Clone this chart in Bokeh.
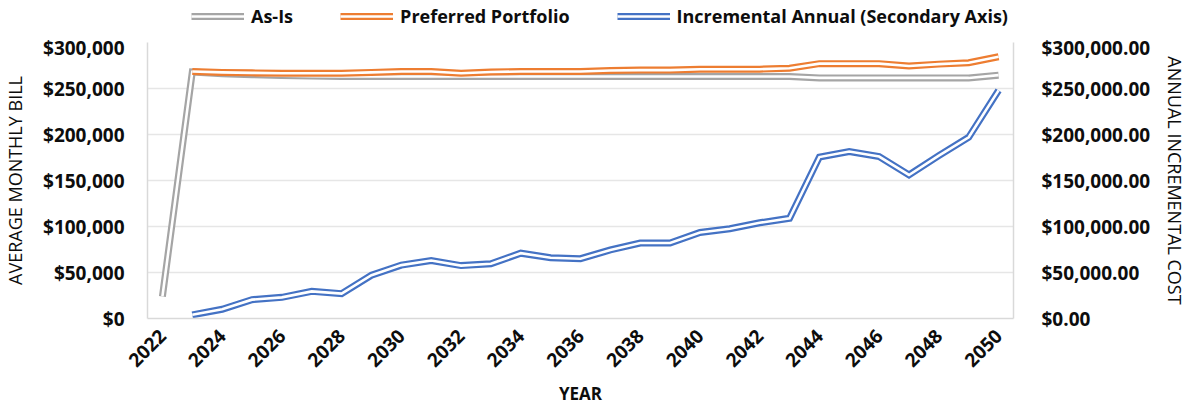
import math
from bokeh.plotting import figure
from bokeh.layouts import column
from bokeh.models import (ColumnDataSource, Range1d, LinearAxis, FixedTicker,
                          NumeralTickFormatter, Legend, LegendItem)
from bokeh.embed import file_html
from bokeh.resources import INLINE

nan = float("nan")

years = list(range(2022, 2051))
as_is = [24000, 268000, 266000, 265000, 264000, 263500, 263000,
         263000, 263000, 263000, 263000, 263000, 263000, 263000, 263000,
         263000, 263000, 263000, 263000, 263000, 263000, 263000,
         261500, 261500, 261500, 261500, 261500, 261500, 264500]
preferred = [nan, 268500, 267500, 267000, 266500, 266500, 266500, 267500,
             268500, 268500, 266500, 268000, 268500, 268500, 268500, 269500,
             270000, 270000, 271000, 271000, 271000, 272000, 277000, 277000,
             277000, 274500, 276500, 278000, 284500]
incremental = [nan, 4000, 10000, 20500, 23000, 29500, 27000, 47000, 58000,
               63000, 57500, 59500, 71000, 66000, 65000, 74500, 82000, 82000,
               93500, 97500, 104000, 109000, 175500, 181500, 176000, 156000,
               177000, 197000, 248000]
x_ticks = list(range(2022, 2051, 2))
y_ticks = list(range(0, 300001, 50000))
series_names = ["As-Is", "Preferred Portfolio", "Incremental Annual (Secondary Axis)"]

FONT = "Open Sans"
TXT = "#0d0d0d"
COLORS = ["#a5a5a5", "#ed7d31", "#4472c4"]

src = ColumnDataSource(dict(year=years, as_is=as_is, preferred=preferred,
                            incremental=incremental))

# ---------------- main chart ----------------
p = figure(width=1190, height=374, output_backend="svg", toolbar_location=None,
           x_range=Range1d(2021.5, 2050.5), y_range=Range1d(0, 300000),
           min_border_left=146, min_border_right=172, min_border_top=8,
           min_border_bottom=85)
p.outline_line_color = None
p.extra_y_ranges = {"sec": Range1d(0, 300000)}
right_axis = LinearAxis(y_range_name="sec")
p.add_layout(right_axis, "right")

p.xgrid.visible = False
p.ygrid.ticker = FixedTicker(ticks=y_ticks)
p.ygrid.grid_line_color = "#e6e6e6"
p.ygrid.grid_line_width = 1.5

def style_axis(ax, standoff):
    ax.major_tick_line_color = None
    ax.minor_tick_line_color = None
    ax.axis_line_color = "#d9d9d9"
    ax.axis_line_width = 1.5
    ax.major_label_text_font = FONT
    ax.major_label_text_font_style = "bold"
    ax.major_label_text_font_size = "19px"
    ax.major_label_text_color = TXT
    ax.major_label_standoff = standoff
    ax.axis_label_text_font = FONT
    ax.axis_label_text_font_style = "normal"
    ax.axis_label_text_font_size = "18px"
    ax.axis_label_text_color = TXT

left_axis = p.left[0]
style_axis(left_axis, 17)
left_axis.ticker = FixedTicker(ticks=y_ticks)
left_axis.formatter = NumeralTickFormatter(format="$0,0")
left_axis.axis_label = "AVERAGE MONTHLY BILL"
left_axis.axis_label_standoff = 13

style_axis(right_axis, 22)
right_axis.ticker = FixedTicker(ticks=y_ticks)
right_axis.formatter = NumeralTickFormatter(format="$0,0.00")
right_axis.axis_label = "ANNUAL INCREMENTAL COST"
right_axis.axis_label_standoff = 10

xax = p.below[0]
style_axis(xax, 8)
xax.ticker = FixedTicker(ticks=x_ticks)
xax.major_label_overrides = {y: str(y) for y in x_ticks}
xax.major_label_orientation = math.pi / 4
xax.axis_label = "YEAR"
xax.axis_label_standoff = 6
xax.axis_label_text_font_style = "bold"
xax.axis_label_text_font_size = "17px"

def double_line(fig, col, color, y_range_name="default"):
    r1 = fig.line("year", col, source=src, line_color=color, line_width=7,
                  y_range_name=y_range_name, line_join="miter")
    r2 = fig.line("year", col, source=src, line_color="white", line_width=2.6,
                  y_range_name=y_range_name, line_join="miter")
    return [r1, r2]

double_line(p, "as_is", COLORS[0])
double_line(p, "preferred", COLORS[1])
double_line(p, "incremental", COLORS[2], "sec")

# ---------------- legend strip above the chart ----------------
lg = figure(width=1190, height=34, output_backend="svg", toolbar_location=None,
            x_range=Range1d(2021.5, 2050.5), y_range=Range1d(-2, -1),
            x_axis_location=None, y_axis_location=None,
            min_border_left=0, min_border_right=0, min_border_top=0,
            min_border_bottom=0)
lg.outline_line_color = None
lg.grid.visible = False
l_as = double_line(lg, "as_is", COLORS[0])
l_pp = double_line(lg, "preferred", COLORS[1])
l_in = double_line(lg, "incremental", COLORS[2])

legend = Legend(items=[LegendItem(label=series_names[0], renderers=l_as),
                       LegendItem(label=series_names[1], renderers=l_pp),
                       LegendItem(label=series_names[2], renderers=l_in)],
                orientation="horizontal", location=(44, 6),
                padding=0, margin=0, spacing=47, label_standoff=7,
                glyph_width=53, glyph_height=20, label_height=20,
                border_line_color=None, background_fill_alpha=0,
                label_text_font=FONT, label_text_font_style="bold",
                label_text_font_size="18px", label_text_color=TXT)
lg.add_layout(legend, "center")

layout = column(lg, p, spacing=0)
open("out.html", "w").write(file_html(layout, INLINE))
